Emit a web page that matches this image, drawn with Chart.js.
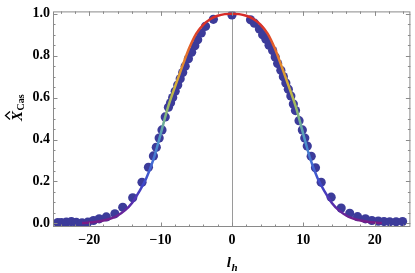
<!DOCTYPE html>
<html>
<head>
<meta charset="utf-8">
<script src="https://cdn.jsdelivr.net/npm/chart.js@4"></script>
<style>
  html, body { margin: 0; padding: 0; background: #fff; }
  #wrap { width: 415px; height: 273px; }
</style>
</head>
<body>
<div id="wrap"><canvas id="chart" width="415" height="273"></canvas></div>
<script>
/*******************
 * DATA
 ******************/

// fitted curve
const curveX = [-21, -20, -19, -18, -17, -16, -15, -14, -13, -12, -11, -10, -9, -8, -7, -6, -5, -4, -3, -2, -1,
                 0, 1, 2, 3, 4, 5, 6, 7, 8, 9, 10, 11, 12, 13, 14, 15, 16, 17, 18, 19, 20, 21];
const curveY = [0.002, 0.004, 0.008, 0.014, 0.023, 0.038, 0.062, 0.098, 0.152, 0.215, 0.305, 0.425, 0.55, 0.65, 0.745, 0.835, 0.905, 0.948, 0.975, 0.99, 0.998,
                1.0, 0.998, 0.99, 0.975, 0.948, 0.905, 0.835, 0.745, 0.65, 0.55, 0.425, 0.305, 0.215, 0.152, 0.098, 0.062, 0.038, 0.023, 0.014, 0.008, 0.004, 0.002];

// measured points
const pointX = [-24.4, -23.9, -23.2, -22.5, -21.8, -21.0, -20.2, -19.4, -18.6, -17.6, -16.4, -15.3, -13.9, -12.6, -11.7, -11.0,
                -10.6, -10.2, -9.8, -9.35, -8.9, -8.6, -8.3, -7.95, -7.6, -7.25, -6.9, -6.55, -6.1, -5.65, -5.2, -4.8, -4.3, -3.7, -2.6,
                0, 2.6, 3.15, 3.85, 4.3, 4.76, 5.2, 5.7, 6.06, 6.4, 6.85, 7.2, 7.55, 7.9, 8.25, 8.6, 8.9, 9.4, 9.86, 10.2, 10.55,
                11.1, 11.7, 12.5, 13.9, 15.3, 16.5, 17.6, 18.7, 19.6, 20.5, 21.3, 22.1, 23.0, 23.9];
const pointY = [0.004, 0.004, 0.006, 0.009, 0.005, 0.003, 0.006, 0.014, 0.022, 0.031, 0.046, 0.077, 0.122, 0.196, 0.268, 0.322,
                0.363, 0.407, 0.446, 0.508, 0.554, 0.575, 0.60, 0.63, 0.66, 0.69, 0.72, 0.75, 0.785, 0.816, 0.847, 0.876, 0.908, 0.94, 0.973,
                0.994, 0.971, 0.955, 0.927, 0.90, 0.878, 0.85, 0.824, 0.793, 0.762, 0.73, 0.70, 0.67, 0.64, 0.608, 0.569, 0.538, 0.49, 0.446, 0.407, 0.369,
                0.32, 0.265, 0.196, 0.125, 0.073, 0.048, 0.032, 0.022, 0.014, 0.011, 0.009, 0.008, 0.008, 0.009];

const xTicks = [-20, -10, 0, 10, 20];
const yTicks = [0, 0.2, 0.4, 0.6, 0.8, 1.0];
const xMinor = [-24, -22, -18, -16, -14, -12, -8, -6, -4, -2, 2, 4, 6, 8, 12, 14, 16, 18, 22, 24];
const yMinor = [0.05, 0.1, 0.15, 0.25, 0.3, 0.35, 0.45, 0.5, 0.55, 0.65, 0.7, 0.75, 0.85, 0.9, 0.95];

// rainbow colouring of the curve by height
const rainbowStops = [
    [0.0, '#7a1c84'], [0.08, '#5a2aa8'], [0.18, '#3f45c8'], [0.3, '#4470d4'],
    [0.4, '#4e98c8'], [0.5, '#78b48a'], [0.58, '#a8bb58'], [0.66, '#d4b03a'],
    [0.76, '#e48a2e'], [0.86, '#e25a2a'], [0.95, '#d9322a'], [1.0, '#d62a28']
];

const FRAME = '#8a8a8a';
const TICK_FONT = { family: 'Liberation Serif', size: 14, weight: 'bold' };

/*******************
 * CURVE GRADIENT
 ******************/

function curveGradient(context) {
    const chart = context.chart;
    const area = chart.chartArea;
    if (!area) return '#d62a28';
    const y = chart.scales.y;
    const g = chart.ctx.createLinearGradient(0, y.getPixelForValue(0), 0, y.getPixelForValue(1));
    rainbowStops.forEach(s => g.addColorStop(s[0], s[1]));
    return g;
}

/*******************
 * FRAME, TICKS, ZERO LINE, AXIS TITLES
 ******************/

const framePlugin = {
    id: 'frame',
    beforeDatasetsDraw(chart) {
        const ctx = chart.ctx;
        const a = chart.chartArea;
        const x0 = Math.round(chart.scales.x.getPixelForValue(0)) + 0.5;
        ctx.save();
        ctx.strokeStyle = '#9a9a9a';
        ctx.lineWidth = 1;
        ctx.beginPath();
        ctx.moveTo(x0, a.top);
        ctx.lineTo(x0, a.bottom);
        ctx.stroke();
        ctx.restore();
    },
    afterDatasetsDraw(chart) {
        const ctx = chart.ctx;
        const a = chart.chartArea;
        const xs = chart.scales.x;
        const ys = chart.scales.y;
        ctx.save();
        ctx.strokeStyle = FRAME;
        ctx.lineWidth = 1;
        ctx.strokeRect(a.left + 0.5, a.top + 0.5, a.right - a.left - 1, a.bottom - a.top - 1);

        ctx.beginPath();
        const tickX = (v, len) => {
            const p = Math.round(xs.getPixelForValue(v)) + 0.5;
            ctx.moveTo(p, a.bottom); ctx.lineTo(p, a.bottom - len);
            ctx.moveTo(p, a.top); ctx.lineTo(p, a.top + len);
        };
        const tickY = (v, len) => {
            const p = Math.round(ys.getPixelForValue(v)) + 0.5;
            ctx.moveTo(a.left, p); ctx.lineTo(a.left + len, p);
            ctx.moveTo(a.right, p); ctx.lineTo(a.right - len, p);
        };
        xTicks.forEach(v => tickX(v, 4.5));
        xMinor.forEach(v => tickX(v, 2.5));
        yTicks.forEach(v => tickY(v, 4.5));
        yMinor.forEach(v => tickY(v, 2.5));
        ctx.stroke();
        ctx.restore();
    },
    afterDraw(chart) {
        const ctx = chart.ctx;
        const xs = chart.scales.x;
        ctx.save();
        ctx.fillStyle = '#000';
        ctx.textBaseline = 'alphabetic';

        /* x title: l with subscript h */
        ctx.font = 'italic bold 15px "Liberation Serif"';
        const lw = ctx.measureText('l').width;
        ctx.font = 'italic bold 11px "Liberation Serif"';
        const hw = ctx.measureText('h').width;
        const cx = xs.getPixelForValue(0);
        const startX = cx - (lw + hw) / 2;
        ctx.font = 'italic bold 15px "Liberation Serif"';
        ctx.fillText('l', startX, 267);
        ctx.font = 'italic bold 11px "Liberation Serif"';
        ctx.fillText('h', startX + lw + 0.5, 270.5);

        /* y title: X hat with subscript Cas, rotated */
        ctx.translate(22, 121);
        ctx.rotate(-Math.PI / 2);
        ctx.font = 'italic bold 15px "Liberation Serif"';
        const xw = ctx.measureText('X').width;
        ctx.fillText('X', 0, 0);
        ctx.strokeStyle = '#000';
        ctx.lineWidth = 1.3;
        ctx.beginPath();
        ctx.moveTo(1.5, -12);
        ctx.lineTo(5.5, -16.5);
        ctx.lineTo(9.5, -12);
        ctx.stroke();
        ctx.font = 'bold 10px "Liberation Serif"';
        ctx.fillText('Cas', xw + 0.5, 1.5);
        ctx.restore();
    }
};

/*******************
 * CHART
 ******************/

const ctx = document.getElementById('chart');
new Chart(ctx, {
    type: 'scatter',
    data: {
        datasets: [
            {
                label: 'fit',
                data: curveX.map((x, i) => ({ x: x, y: curveY[i] })),
                showLine: true,
                borderColor: curveGradient,
                borderWidth: 2.5,
                pointRadius: 0,
                cubicInterpolationMode: 'monotone',
                fill: false,
            },
            {
                label: 'points',
                data: pointX.map((x, i) => ({ x: x, y: pointY[i] })),
                showLine: false,
                pointRadius: 4.6,
                pointBorderWidth: 0,
                backgroundColor: '#3c3b9a',
                borderColor: '#3c3b9a',
            }
        ]
    },
    options: {
        responsive: false,
        animation: false,
        events: [],
        layout: { padding: { top: 4.5, right: 1, left: 0, bottom: 0 } },
        plugins: {
            legend: { display: false },
            tooltip: { enabled: false },
        },
        scales: {
            x: {
                type: 'linear',
                min: -25.07,
                max: 25,
                grid: { display: false, drawTicks: false },
                border: { display: false },
                afterBuildTicks: scale => { scale.ticks = xTicks.map(v => ({ value: v })); },
                afterFit: scale => { scale.height = 46; },
                ticks: {
                    color: '#000',
                    font: TICK_FONT,
                    padding: 5,
                    maxRotation: 0,
                    autoSkip: false,
                    callback: v => v < 0 ? '\u2212' + Math.abs(v) : String(v),
                },
            },
            y: {
                type: 'linear',
                min: -0.017,
                max: 1.011,
                grid: { display: false, drawTicks: false },
                border: { display: false },
                afterBuildTicks: scale => { scale.ticks = yTicks.map(v => ({ value: v })); },
                afterFit: scale => { scale.width = 53; },
                ticks: {
                    color: '#000',
                    font: TICK_FONT,
                    padding: 3,
                    autoSkip: false,
                    callback: v => Number(v).toFixed(1),
                },
            },
        },
    },
    plugins: [framePlugin],
});
</script>
</body>
</html>
